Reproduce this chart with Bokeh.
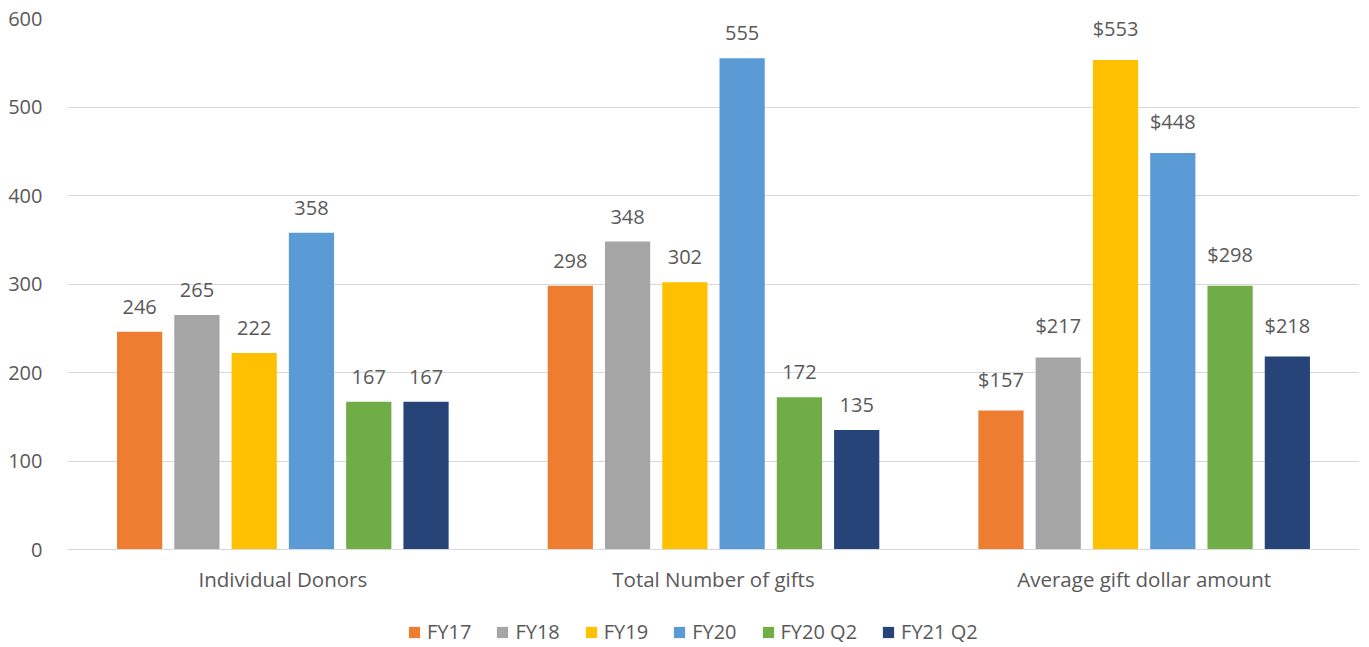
from bokeh.plotting import figure
from bokeh.layouts import column
from bokeh.models import FactorRange, Range1d, ColumnDataSource, Legend, LegendItem, SingleIntervalTicker
from bokeh.transform import dodge
from bokeh.embed import file_html
from bokeh.resources import INLINE
from bokeh.core.properties import value

categories = ["Individual Donors", "Total Number of gifts", "Average gift dollar amount"]
series = ["FY17", "FY18", "FY19", "FY20", "FY20 Q2", "FY21 Q2"]
fy17 = [246, 298, 157]
fy18 = [265, 348, 217]
fy19 = [222, 302, 553]
fy20 = [358, 555, 448]
fy20_q2 = [167, 172, 298]
fy21_q2 = [167, 135, 218]
label_prefix = ["", "", "$"]
values = [fy17, fy18, fy19, fy20, fy20_q2, fy21_q2]
colors = ["#ED7D31", "#A5A5A5", "#FFC000", "#5B9BD5", "#70AD47", "#264478"]

FONT = "Open Sans"
TXT = "#595959"

p = figure(width=1359, height=619, output_backend="svg", toolbar_location=None,
           x_range=FactorRange(factors=categories, range_padding=0),
           y_range=Range1d(0, 600))
p.min_border_left = 67
p.min_border_right = 0
p.min_border_top = 18
p.min_border_bottom = 70
p.outline_line_color = None
p.background_fill_color = "white"
p.border_fill_color = "white"

p.yaxis.ticker = SingleIntervalTicker(interval=100)
p.yaxis.axis_line_color = None
p.yaxis.major_tick_line_color = None
p.yaxis.minor_tick_line_color = None
p.yaxis.major_label_text_font = FONT
p.yaxis.major_label_text_font_size = "20px"
p.yaxis.major_label_text_color = TXT
p.yaxis.major_label_standoff = 19

p.xaxis.axis_line_color = "#D9D9D9"
p.xaxis.axis_line_width = 1
p.xaxis.major_tick_line_color = None
p.xaxis.minor_tick_line_color = None
p.xaxis.major_label_text_font = FONT
p.xaxis.major_label_text_font_size = "20.5px"
p.xaxis.major_label_text_color = TXT
p.xaxis.major_label_standoff = 9

p.xgrid.grid_line_color = None
p.ygrid.grid_line_color = "#D9D9D9"
p.ygrid.grid_line_width = 1

step = 0.133
bar_w = 0.105
for i, (name, vals, col) in enumerate(zip(series, values, colors)):
    src = ColumnDataSource(dict(
        cat=categories,
        val=vals,
        label=[f"{pre}{v}" for pre, v in zip(label_prefix, vals)],
    ))
    off = (i - 2.5) * step
    p.vbar(x=dodge("cat", off, range=p.x_range), top="val", width=bar_w,
           source=src, fill_color=col, line_color=None)
    p.text(x=dodge("cat", off, range=p.x_range), y="val", text="label", source=src,
           text_align="center", text_baseline="bottom", y_offset=-18,
           text_font=value(FONT), text_font_size="20px", text_color=TXT)

# legend strip below the chart (proxy glyphs lie outside the visible range)
lg = figure(width=1359, height=28, output_backend="svg", toolbar_location=None,
            x_range=Range1d(0, 1), y_range=Range1d(0, 1),
            x_axis_location=None, y_axis_location=None)
lg.min_border = 0
lg.outline_line_color = None
lg.xgrid.visible = False
lg.ygrid.visible = False
items = []
for name, col in zip(series, colors):
    r = lg.vbar(x=[-5], top=[-5], width=0.1, fill_color=col, line_color=None)
    items.append(LegendItem(label=name, renderers=[r]))

legend = Legend(items=items, orientation="horizontal", location=(340, 2),
                glyph_width=14, glyph_height=14, label_standoff=6, spacing=24,
                label_text_font=FONT, label_text_font_size="20px",
                label_text_color=TXT, border_line_color=None,
                padding=0, margin=0, background_fill_alpha=0)
lg.add_layout(legend, "center")

layout = column(p, lg, spacing=0)
open("out.html", "w").write(file_html(layout, INLINE))
